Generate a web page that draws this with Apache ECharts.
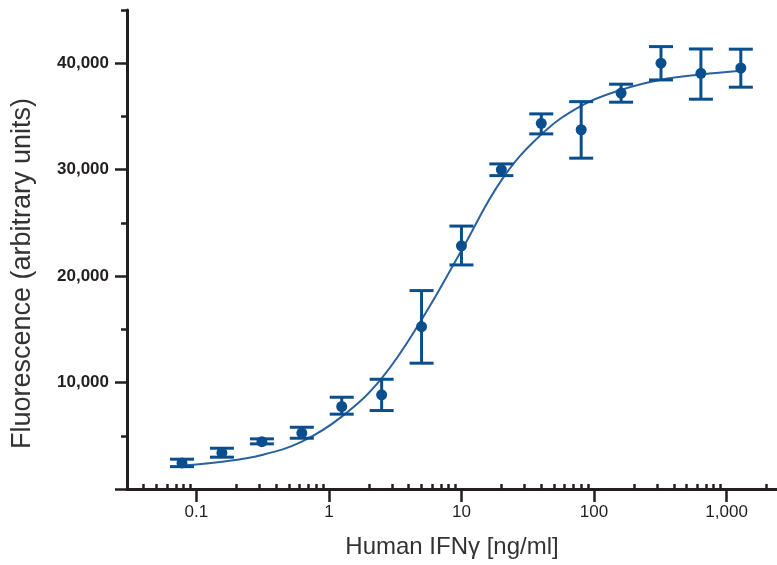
<!DOCTYPE html>
<html>
<head>
<meta charset="utf-8">
<title>IFNγ dose response</title>
<script src="https://cdn.jsdelivr.net/npm/echarts@6/dist/echarts.min.js"></script>
<style>
  html, body { margin: 0; padding: 0; background: #fff; }
  #chart { width: 777px; height: 565px; }
</style>
</head>
<body>
<div id="chart"></div>
<script>
// concentrations (ng/ml) and measured fluorescence
var dose = [0.078, 0.156, 0.3125, 0.625, 1.25, 2.5, 5, 10, 20, 40, 80, 160, 320, 640, 1280];
var fluor = [2450, 3400, 4450, 5250, 7750, 8850, 15250, 22850, 30000, 34350, 33750, 37200, 40000, 39050, 39550];
var errTop = [2800, 3830, 4710, 5800, 8620, 10310, 18640, 24700, 30540, 35240, 36390, 38030, 41560, 41340, 41320];
var errBottom = [2100, 2990, 4240, 4770, 7030, 7370, 11820, 21050, 29440, 33360, 31080, 36340, 38430, 36620, 37750];

// fitted curve at each dose
var fitY = [2200, 2550, 3200, 4450, 6800, 10400, 15900, 22400, 29000, 33300, 36000, 37500, 38450, 38950, 39300];

// axis ticks
var xMajor = [0.1, 1, 10, 100, 1000];
var xMinor = [0.04, 0.05, 0.06, 0.07, 0.08, 0.09,
              0.2, 0.3, 0.4, 0.5, 0.6, 0.7, 0.8, 0.9,
              2, 3, 4, 5, 6, 7, 8, 9,
              20, 30, 40, 50, 60, 70, 80, 90,
              200, 300, 400, 500, 600, 700, 800, 900, 2000];
var yMajor = [0, 10000, 20000, 30000, 40000];
var yLabels = [10000, 20000, 30000, 40000];
var yMinor = [5000, 15000, 25000, 35000, 45000];

var ink = '#231f20';
var blue = '#0b4e8d';
var font = 'Liberation Sans, Arial, sans-serif';

var chart = echarts.init(document.getElementById('chart'));

function fmt(v) {
    return v >= 1000 ? v.toLocaleString('en-US') : String(v);
}

var pts = dose.map(function (d, i) { return [d, fluor[i]]; });
var bars = dose.map(function (d, i) { return [d, errBottom[i], errTop[i]]; });
var fit = dose.map(function (d, i) { return [d, fitY[i]]; });

var option = {
    backgroundColor: '#fff',
    animation: false,
    grid: { left: 127, right: 0, top: 10, bottom: 76, containLabel: false, outerBoundsMode: 'none' },
    xAxis: [{
        type: 'log',
        min: 0.03,
        max: 2400,
        name: 'Human IFNγ [ng/ml]',
        nameLocation: 'middle',
        nameGap: 46,
        nameTextStyle: { fontFamily: font, fontSize: 24, color: '#333' },
        axisLine: { lineStyle: { color: ink, width: 3 } },
        axisTick: { customValues: xMajor, length: 13, lineStyle: { color: ink, width: 2.5 } },
        axisLabel: {
            customValues: xMajor, margin: 15,
            fontFamily: font, fontSize: 17, color: ink,
            formatter: fmt
        },
        splitLine: { show: false }
    }, {
        type: 'log',
        min: 0.03,
        max: 2400,
        axisLine: { show: false },
        axisTick: { customValues: xMinor, length: 5, lineStyle: { color: ink, width: 2.5 } },
        axisLabel: { show: false },
        splitLine: { show: false }
    }],
    yAxis: [{
        type: 'value',
        min: 0,
        max: 45000,
        name: 'Fluorescence (arbitrary units)',
        nameLocation: 'middle',
        nameGap: 91,
        nameTextStyle: { fontFamily: font, fontSize: 27, color: '#333', padding: [0, 48, 0, 0] },
        axisLine: { lineStyle: { color: ink, width: 3 } },
        axisTick: { customValues: yMajor, length: 12, lineStyle: { color: ink, width: 2.5 } },
        axisLabel: {
            customValues: yLabels, margin: 18,
            fontFamily: font, fontSize: 17, fontWeight: 'bold', color: ink,
            formatter: fmt
        },
        splitLine: { show: false }
    }, {
        type: 'value',
        min: 0,
        max: 45000,
        position: 'left',
        axisLine: { show: false },
        axisTick: { customValues: yMinor, length: 6, lineStyle: { color: ink, width: 2.5 } },
        axisLabel: { show: false },
        splitLine: { show: false }
    }],
    series: [{
        name: 'fit',
        type: 'line',
        data: fit,
        smooth: 0.4,
        showSymbol: false,
        lineStyle: { color: '#2b619e', width: 2 },
        z: 2
    }, {
        name: 'sd',
        type: 'custom',
        data: bars,
        renderItem: function (params, api) {
            var x = api.value(0);
            var lo = api.coord([x, api.value(1)]);
            var hi = api.coord([x, api.value(2)]);
            var hw = 12;
            var st = { stroke: blue, lineWidth: 3, fill: null };
            return {
                type: 'group',
                children: [
                    { type: 'line', shape: { x1: lo[0], y1: lo[1], x2: hi[0], y2: hi[1] }, style: st },
                    { type: 'line', shape: { x1: hi[0] - hw, y1: hi[1], x2: hi[0] + hw, y2: hi[1] }, style: st },
                    { type: 'line', shape: { x1: lo[0] - hw, y1: lo[1], x2: lo[0] + hw, y2: lo[1] }, style: st }
                ]
            };
        },
        z: 3
    }, {
        name: 'mean',
        type: 'scatter',
        data: pts,
        symbol: 'circle',
        symbolSize: 11,
        itemStyle: { color: blue, opacity: 1 },
        z: 4
    }]
};

chart.setOption(option);
</script>
</body>
</html>
